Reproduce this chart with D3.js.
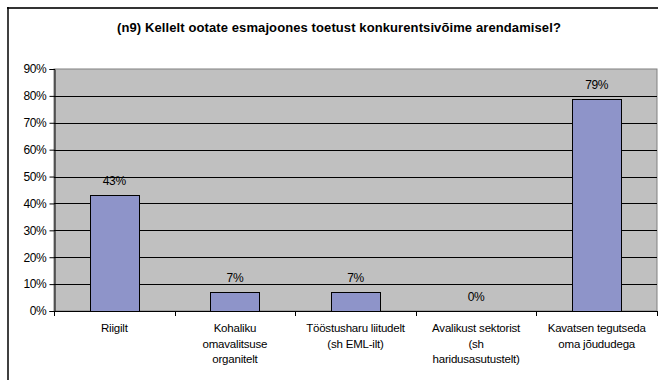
<!DOCTYPE html>
<html><head><meta charset="utf-8">
<script src="https://cdn.jsdelivr.net/npm/d3@7"></script>
<style>body{margin:0;background:#fff}svg{display:block}text{font-family:"Liberation Sans",Arial,sans-serif}</style>
</head><body><div id="c"></div>
<script>
const title = "(n9) Kellelt ootate esmajoones toetust konkurentsivõime arendamisel?";
const categories = [
  ["Riigilt"],
  ["Kohaliku", "omavalitsuse", "organitelt"],
  ["Tööstusharu liitudelt", "(sh EML-ilt)"],
  ["Avalikust sektorist", "(sh", "haridusasutustelt)"],
  ["Kavatsen tegutseda", "oma jõududega"]
];
const values = [43, 7, 7, 0, 79];
const yTicks = [0, 10, 20, 30, 40, 50, 60, 70, 80, 90];

const W = 658, H = 380;
const svg = d3.select("#c").append("svg").attr("width", W).attr("height", H);
const plot = {left: 54, right: 657, top: 69, bottom: 311};

// outer frame
svg.append("line").attr("x1", 7).attr("x2", W).attr("y1", 8).attr("y2", 8).attr("stroke", "#333").attr("stroke-width", 2);
svg.append("line").attr("x1", 8).attr("x2", 8).attr("y1", 7).attr("y2", H).attr("stroke", "#000").attr("stroke-width", 1.5);

svg.append("text").attr("x", 339).attr("y", 32).attr("text-anchor", "middle")
  .attr("font-size", 13).attr("font-weight", "bold").attr("letter-spacing", 0.1).text(title);

const x = d3.scaleBand().domain(d3.range(categories.length)).range([plot.left, plot.right])
  .paddingInner(0.59).paddingOuter(0.295);
const xb = d3.scaleBand().domain(d3.range(categories.length)).range([plot.left, plot.right]);
const y = d3.scaleLinear().domain([0, 90]).range([plot.bottom, plot.top]);

svg.append("rect").attr("x", plot.left).attr("y", plot.top).attr("width", plot.right - plot.left)
  .attr("height", plot.bottom - plot.top).attr("fill", "#c0c0c0").attr("stroke", "#808080").attr("stroke-width", 1);

svg.append("g").selectAll("line").data(yTicks.filter(d => d > 0 && d < 90)).join("line")
  .attr("x1", plot.left).attr("x2", plot.right)
  .attr("y1", d => Math.round(y(d)) + 0.5).attr("y2", d => Math.round(y(d)) + 0.5)
  .attr("stroke", "#000").attr("stroke-width", 1);

svg.append("g").selectAll("rect").data(values).join("rect")
  .attr("x", (d, i) => Math.round(x(i)) + 0.5).attr("y", d => Math.round(y(d)) + 0.5)
  .attr("width", Math.round(x.bandwidth()))
  .attr("height", d => Math.round(y(0)) - Math.round(y(d)))
  .attr("fill", "#8e94c9").attr("stroke", "#000").attr("stroke-width", 1);

svg.append("g").selectAll("text").data(values).join("text")
  .attr("x", (d, i) => x(i) + x.bandwidth() / 2).attr("y", d => y(d) - 10)
  .attr("text-anchor", "middle").attr("font-size", 12).attr("letter-spacing", -0.3).attr("fill", "#000").text(d => d + "%");

// y axis
const yAxis = d3.axisLeft(y).tickValues(yTicks).tickFormat(d => d + "%").tickSize(5).tickPadding(3);
const gy = svg.append("g").attr("transform", `translate(${plot.left + 0.5},0)`).call(yAxis);
gy.select(".domain").attr("stroke", "#000");
gy.selectAll(".tick line").attr("stroke", "#000");
gy.selectAll(".tick text").attr("font-size", 12).attr("letter-spacing", -0.3).attr("fill", "#000").attr("font-family", "Liberation Sans, Arial, sans-serif");

// x axis
svg.append("line").attr("x1", plot.left).attr("x2", plot.right).attr("y1", plot.bottom + 0.5).attr("y2", plot.bottom + 0.5).attr("stroke", "#000");
svg.append("g").selectAll("line").data(d3.range(categories.length + 1)).join("line")
  .attr("x1", i => Math.round(i < categories.length ? xb(i) : plot.right) + 0.5)
  .attr("x2", i => Math.round(i < categories.length ? xb(i) : plot.right) + 0.5)
  .attr("y1", plot.bottom).attr("y2", plot.bottom + 5).attr("stroke", "#000");

const cl = svg.append("g").selectAll("text").data(categories).join("text")
  .attr("x", (d, i) => xb(i) + xb.bandwidth() / 2).attr("y", 332)
  .attr("text-anchor", "middle").attr("font-size", 11.5).attr("letter-spacing", -0.2).attr("fill", "#000");
cl.selectAll("tspan").data(d => d).join("tspan")
  .attr("x", function() { return this.parentNode.getAttribute("x"); })
  .attr("dy", (d, j) => j === 0 ? 0 : 15.5).text(d => d);
</script></body></html>
